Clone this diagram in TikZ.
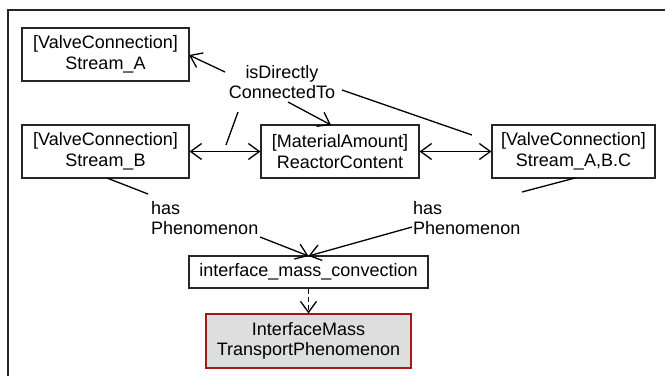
\documentclass[tikz,border=0pt]{standalone}
\usepackage{fontspec}
\setmainfont{Liberation Sans}
\usetikzlibrary{arrows.meta}
\begin{document}
\begin{tikzpicture}[x=1pt,y=-1pt,
  every node/.style={font=\fontsize{18}{20.5}\selectfont, inner sep=0pt},
  box/.style={draw=black!85, line width=1.1pt, minimum height=53pt, align=center},
  lbl/.style={align=left},
  edge/.style={line width=1.3pt, black},
  arr/.style={edge, -{Straight Barb[length=11pt,width=16pt,line width=1.3pt]}},
  darr/.style={edge, {Straight Barb[length=11pt,width=16pt,line width=1.3pt]}-{Straight Barb[length=11pt,width=16pt,line width=1.3pt]}}
  ]
\useasboundingbox (0,0) rectangle (665,376);
\draw[line width=1.3pt, black!85] (8,376) -- (8,10) -- (670,10);
\node[box, minimum width=167pt] (sa) at (105.5,54.5) {[ValveConnection]\\Stream\_A};
\node[box, minimum width=167pt] (sb) at (105.5,151.5) {[ValveConnection]\\Stream\_B};
\node[box, minimum width=158pt] (rc) at (340,151.5) {[MaterialAmount]\\ReactorContent};
\node[box, minimum width=163pt] (sabc) at (573.5,151.5) {[ValveConnection]\\Stream\_A,B.C};
\node[box, minimum width=239pt, minimum height=32pt] (imc) at (308.5,272) {interface\_mass\_convection};
\node[box, draw=red!60!black!90, fill=black!13, minimum width=205pt, minimum height=54pt] (imt) at (308.5,341) {InterfaceMass\\TransportPhenomenon};
\node[align=center] (l1) at (282,82) {isDirectly\\ConnectedTo};
\node[lbl, anchor=west] (l2) at (151,218) {has\\Phenomenon};
\node[lbl, anchor=west] (l3) at (413,218) {has\\Phenomenon};
% coordinates
\coordinate (a1) at (225,72);
\coordinate (a2) at (189,55);
\coordinate (b1) at (226,145);
\coordinate (b2) at (238,112);
\coordinate (c1) at (288,102);
\coordinate (c2) at (331,125);
\coordinate (d1) at (342,90);
\coordinate (d2) at (472,135);
\coordinate (e1) at (107,178);
\coordinate (e2) at (148,194);
\coordinate (f1) at (260,237);
\coordinate (g1) at (575,178);
\coordinate (g2) at (522,192);
\coordinate (h1) at (412,227);
\coordinate (t) at (308.5,256);
\draw[arr] (a1) -- (a2);
\draw[edge] (b1) -- (b2);
\draw[arr] (c1) -- (c2);
\draw[edge] (d1) -- (d2);
\draw[darr] (sb.east) -- (rc.west);
\draw[darr] (rc.east) -- (sabc.west);
\draw[edge] (e1) -- (e2);
\draw[arr] (f1) -- (t);
\draw[edge] (g1) -- (g2);
\draw[arr] (h1) -- (t);
\draw[arr, dashed, dash pattern=on 5pt off 3pt] (imc.south) -- (imt.north);
\end{tikzpicture}
\end{document}
